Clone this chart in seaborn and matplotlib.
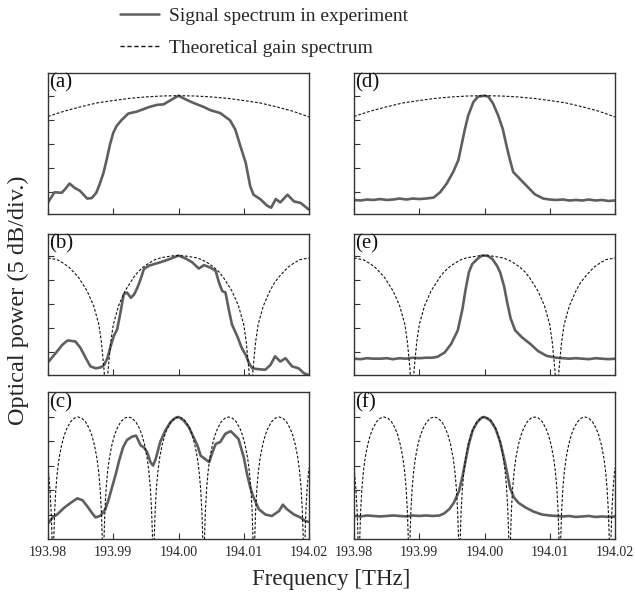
import matplotlib
matplotlib.use("Agg")
import matplotlib.pyplot as plt
from matplotlib.lines import Line2D
import pandas as pd
import seaborn as sns

# ---------------- data ----------------
freq_ticks = [193.98, 193.99, 194.00, 194.01, 194.02]
freq_tick_labels = ["193.98", "193.99", "194.00", "194.01", "194.02"]
db_ticks = [0, -5, -10, -15, -20]

# theoretical gain spectra (one per row)
th1_f = [193.9800, 193.9825, 193.9850, 193.9875, 193.9900, 193.9925, 193.9950, 193.9975, 194.0000,
         194.0025, 194.0050, 194.0075, 194.0100, 194.0125, 194.0150, 194.0175, 194.0200]
th1_db = [-4.3, -3.2, -2.3, -1.5, -1.0, -0.55, -0.25, -0.06, 0.0,
          -0.06, -0.25, -0.55, -1.0, -1.5, -2.3, -3.2, -4.4]

th2_f = [193.9800, 193.9814, 193.9823, 193.9832, 193.9839, 193.9847, 193.9860, 193.9870, 193.9878,
         193.9882, 193.9886, 193.9889, 193.9892, 193.9896, 193.9900, 193.9908, 193.9918, 193.9925,
         193.9931, 193.9938, 193.9946, 193.9955, 193.9964, 193.9973, 193.9982, 193.9991, 194.0000,
         194.0009, 194.0018, 194.0027, 194.0036, 194.0045, 194.0054, 194.0062, 194.0069, 194.0075,
         194.0082, 194.0092, 194.0100, 194.0104, 194.0108, 194.0111, 194.0114, 194.0118, 194.0122,
         194.0130, 194.0140, 194.0146, 194.0153, 194.0161, 194.0168, 194.0177, 194.0186, 194.0200]
th2_db = [-0.5, -0.85, -1.55, -2.4, -3.4, -4.6, -7.4, -10.5, -14.4,
          -18.2, -24, -32, -24, -18.2, -14.4, -10.5, -7.4, -5.9,
          -4.6, -3.4, -2.4, -1.55, -0.85, -0.45, -0.25, -0.06, 0.0,
          -0.06, -0.25, -0.45, -0.85, -1.55, -2.4, -3.4, -4.6, -5.9,
          -7.4, -10.5, -14.4, -18.2, -24, -32, -24, -18.2, -14.4,
          -10.5, -7.4, -5.9, -4.6, -3.4, -2.4, -1.55, -0.85, -0.5]

th3_f = [193.98000, 193.98006, 193.98029, 193.98048, 193.98060, 193.98075,
         193.98090, 193.98102, 193.98121, 193.98144, 193.98171, 193.98210, 193.98248, 193.98287,
         193.98344, 193.98402, 193.98460,
         193.98518, 193.98576, 193.98633, 193.98672, 193.98710, 193.98749, 193.98776, 193.98799,
         193.98818, 193.98830, 193.98845,
         193.98860, 193.98872, 193.98891, 193.98914, 193.98941, 193.98980, 193.99018, 193.99057,
         193.99114, 193.99172, 193.99230,
         193.99288, 193.99346, 193.99403, 193.99442, 193.99480, 193.99519, 193.99546, 193.99569,
         193.99588, 193.99600, 193.99615,
         193.99630, 193.99642, 193.99661, 193.99684, 193.99711, 193.99750, 193.99788, 193.99827,
         193.99884, 193.99942, 194.00000,
         194.00058, 194.00116, 194.00173, 194.00212, 194.00250, 194.00289, 194.00316, 194.00339,
         194.00358, 194.00370, 194.00385,
         194.00400, 194.00412, 194.00431, 194.00454, 194.00481, 194.00520, 194.00558, 194.00597,
         194.00654, 194.00712, 194.00770,
         194.00828, 194.00886, 194.00943, 194.00982, 194.01020, 194.01059, 194.01086, 194.01109,
         194.01128, 194.01140, 194.01155,
         194.01170, 194.01182, 194.01201, 194.01224, 194.01251, 194.01290, 194.01328, 194.01367,
         194.01424, 194.01482, 194.01540,
         194.01598, 194.01656, 194.01713, 194.01752, 194.01790, 194.01829, 194.01856, 194.01879,
         194.01898, 194.01910, 194.01925,
         194.01940, 194.01952, 194.01971, 194.01994, 194.02000]
th3_db = [-10.4, -11.1, -14.6, -19.2, -24, -32,
          -24, -19.2, -14.6, -11.1, -8.34, -5.65, -3.76, -2.38, -1.0, -0.24, 0.0,
          -0.24, -1.0, -2.38, -3.76, -5.65, -8.34, -11.1, -14.6, -19.2, -24, -32,
          -24, -19.2, -14.6, -11.1, -8.34, -5.65, -3.76, -2.38, -1.0, -0.24, 0.0,
          -0.24, -1.0, -2.38, -3.76, -5.65, -8.34, -11.1, -14.6, -19.2, -24, -32,
          -24, -19.2, -14.6, -11.1, -8.34, -5.65, -3.76, -2.38, -1.0, -0.24, 0.0,
          -0.24, -1.0, -2.38, -3.76, -5.65, -8.34, -11.1, -14.6, -19.2, -24, -32,
          -24, -19.2, -14.6, -11.1, -8.34, -5.65, -3.76, -2.38, -1.0, -0.24, 0.0,
          -0.24, -1.0, -2.38, -3.76, -5.65, -8.34, -11.1, -14.6, -19.2, -24, -32,
          -24, -19.2, -14.6, -11.1, -8.34, -5.65, -3.76, -2.38, -1.0, -0.24, 0.0,
          -0.24, -1.0, -2.38, -3.76, -5.65, -8.34, -11.1, -14.6, -19.2, -24, -32,
          -24, -19.2, -14.6, -11.1, -10.4]

# measured signal spectra
fa = [193.9800, 193.9810, 193.9821, 193.9826, 193.9833, 193.9841, 193.9849, 193.9860, 193.9867,
      193.9874, 193.9879, 193.9885, 193.9890, 193.9895, 193.9900, 193.9905, 193.9913, 193.9923,
      193.9936, 193.9946, 193.9956, 193.9967, 193.9977, 193.9987, 194.0000, 194.0010, 194.0023,
      194.0038, 194.0049, 194.0064, 194.0079, 194.0087, 194.0095, 194.0103, 194.0110, 194.0115,
      194.0126, 194.0136, 194.0142, 194.0149, 194.0156, 194.0167, 194.0177, 194.0187, 194.0200]
sa = [-22.1, -20.0, -20.1, -19.4, -18.2, -19.1, -19.7, -21.3, -21.2,
      -20.1, -18.4, -16.0, -13.2, -10.1, -7.7, -6.3, -5.0, -3.7,
      -3.3, -2.8, -2.3, -1.9, -1.8, -1.0, 0.0, -0.7, -1.5,
      -2.3, -3.0, -3.6, -5.1, -7.0, -10.5, -13.9, -18.8, -20.5,
      -21.5, -22.8, -23.2, -21.4, -22.1, -20.5, -21.9, -22.2, -23.6]

fb = [193.9801, 193.9812, 193.9822, 193.9830, 193.9842, 193.9850, 193.9858, 193.9865, 193.9873,
      193.9881, 193.9886, 193.9891, 193.9896, 193.9901, 193.9906, 193.9911, 193.9916, 193.9921,
      193.9927, 193.9932, 193.9937, 193.9942, 193.9947, 193.9955, 193.9962, 193.9972, 193.9985,
      194.0000, 194.0011, 194.0021, 194.0031, 194.0039, 194.0049, 194.0057, 194.0062, 194.0067,
      194.0072, 194.0077, 194.0082, 194.0090, 194.0097, 194.0103, 194.0108, 194.0113, 194.0123,
      194.0133, 194.0141, 194.0148, 194.0156, 194.0164, 194.0174, 194.0184, 194.0192, 194.0199]
sb = [-22.1, -20.3, -18.6, -17.7, -17.9, -19.3, -21.4, -23.1, -23.5,
      -23.3, -22.8, -21.4, -18.9, -16.7, -15.4, -11.9, -8.1, -7.7,
      -8.8, -8.1, -6.7, -4.9, -2.8, -2.1, -1.8, -1.4, -0.8,
      0.0, -0.6, -1.4, -2.7, -2.0, -2.5, -3.2, -5.6, -7.4,
      -7.7, -11.2, -14.4, -16.8, -19.3, -20.7, -22.4, -23.5, -23.7,
      -23.8, -22.8, -21.0, -22.1, -21.4, -23.1, -23.5, -24.5, -24.9]

fc = [193.9801, 193.9807, 193.9814, 193.9824, 193.9835, 193.9845, 193.9853, 193.9860, 193.9868,
      193.9873, 193.9881, 193.9888, 193.9893, 193.9898, 193.9904, 193.9909, 193.9915, 193.9921,
      193.9929, 193.9935, 193.9942, 193.9947, 193.9952, 193.9957, 193.9961, 193.9965, 193.9972,
      193.9980, 193.9988, 193.9995, 194.0000, 194.0008, 194.0016, 194.0023, 194.0029, 194.0034,
      194.0041, 194.0047, 194.0052, 194.0057, 194.0064, 194.0072, 194.0080, 194.0087, 194.0092,
      194.0100, 194.0105, 194.0110, 194.0115, 194.0123, 194.0133, 194.0143, 194.0154, 194.0160,
      194.0166, 194.0177, 194.0187, 194.0194, 194.0199]
sc = [-21.6, -20.5, -19.9, -18.6, -17.5, -16.6, -17.0, -18.2, -19.7,
      -20.5, -20.1, -18.8, -16.8, -14.4, -11.6, -8.9, -6.2, -4.7,
      -4.0, -3.8, -5.8, -6.2, -7.2, -9.2, -9.9, -8.6, -5.1,
      -2.7, -1.0, -0.2, 0.0, -0.7, -2.1, -4.1, -5.8, -7.9,
      -8.6, -9.2, -7.2, -5.5, -5.1, -3.4, -2.9, -3.8, -4.5,
      -8.2, -11.6, -14.4, -16.4, -18.8, -19.9, -20.2, -19.2, -17.9,
      -18.8, -19.9, -20.5, -21.2, -21.4]

fd = [193.9800, 193.9810, 193.9820, 193.9830, 193.9840, 193.9850, 193.9860, 193.9870, 193.9880,
      193.9890, 193.9900, 193.9910, 193.9922, 193.9932, 193.9942, 193.9952, 193.9960, 193.9965,
      193.9970, 193.9975, 193.9983, 193.9990, 194.0000, 194.0006, 194.0013, 194.0021, 194.0028,
      194.0034, 194.0039, 194.0044, 194.0054, 194.0064, 194.0077, 194.0090, 194.0100, 194.0110,
      194.0120, 194.0130, 194.0140, 194.0150, 194.0160, 194.0170, 194.0180, 194.0190, 194.0200]
sd = [-21.6, -21.7, -21.5, -21.6, -21.4, -21.6, -21.5, -21.3, -21.5,
      -21.3, -21.4, -21.3, -21.1, -20.0, -18.2, -15.8, -13.3, -10.1,
      -6.9, -4.1, -1.3, -0.2, 0.0, -0.2, -1.6, -4.1, -6.9,
      -10.5, -13.3, -15.8, -17.2, -18.6, -20.4, -21.3, -21.5, -21.6,
      -21.5, -21.7, -21.6, -21.7, -21.5, -21.7, -21.6, -21.8, -21.7]

fe = [193.9800, 193.9810, 193.9820, 193.9830, 193.9840, 193.9850, 193.9860, 193.9870, 193.9880,
      193.9890, 193.9900, 193.9910, 193.9920, 193.9928, 193.9939, 193.9949, 193.9959, 193.9966,
      193.9971, 193.9976, 193.9981, 193.9989, 193.9996, 194.0004, 194.0012, 194.0019, 194.0024,
      194.0030, 194.0035, 194.0040, 194.0047, 194.0057, 194.0070, 194.0082, 194.0095, 194.0110,
      194.0120, 194.0130, 194.0140, 194.0150, 194.0160, 194.0170, 194.0180, 194.0190, 194.0200]
se = [-21.5, -21.6, -21.4, -21.5, -21.5, -21.4, -21.6, -21.4, -21.5,
      -21.3, -21.4, -21.3, -21.3, -21.1, -20.2, -18.4, -15.6, -11.3,
      -7.1, -3.5, -1.8, -0.7, 0.0, 0.0, -0.7, -2.1, -3.5,
      -6.4, -9.9, -13.1, -15.6, -17.0, -18.4, -19.9, -20.9, -21.3,
      -21.4, -21.5, -21.4, -21.5, -21.6, -21.4, -21.5, -21.6, -21.5]

ff = [193.9800, 193.9810, 193.9820, 193.9830, 193.9840, 193.9850, 193.9860, 193.9870, 193.9880,
      193.9890, 193.9900, 193.9910, 193.9920, 193.9931, 193.9938, 193.9946, 193.9953, 193.9961,
      193.9966, 193.9971, 193.9976, 193.9982, 193.9989, 193.9996, 194.0000, 194.0009, 194.0017,
      194.0024, 194.0029, 194.0034, 194.0039, 194.0045, 194.0052, 194.0062, 194.0075, 194.0088,
      194.0100, 194.0110, 194.0120, 194.0130, 194.0140, 194.0150, 194.0160, 194.0170, 194.0180,
      194.0190, 194.0200]
sf = [-20.2, -20.3, -20.1, -20.2, -20.3, -20.2, -20.1, -20.2, -20.3,
      -20.1, -20.2, -20.1, -20.2, -20.1, -19.7, -18.8, -17.5, -15.1,
      -12.3, -8.9, -5.5, -2.7, -1.0, -0.1, 0.0, -0.7, -2.4,
      -5.1, -7.9, -11.0, -14.4, -16.4, -17.5, -18.4, -19.3, -19.9,
      -20.1, -20.2, -20.3, -20.2, -20.4, -20.3, -20.2, -20.4, -20.3,
      -20.4, -20.3]

panel_labels = ["(a)", "(b)", "(c)", "(d)", "(e)", "(f)"]
legend_labels = ["Signal spectrum in experiment", "Theoretical gain spectrum"]
xlabel = "Frequency [THz]"
ylabel = "Optical power (5 dB/div.)"

# ---------------- style ----------------
sns.set_theme(style="ticks")
plt.rcParams["font.family"] = ["Liberation Serif", "DejaVu Serif"]

SIG_COLOR = "#5f5f5f"
TH_COLOR = "#111111"
SPINE_COLOR = "#333333"

W, H = 635, 599
fig = plt.figure(figsize=(W / 100, H / 100), dpi=100)

cols = [(48, 309), (354, 615)]
rows = [(73, 214), (234, 375), (392, 539)]
ylims = [(-24.5, 4.7), (-24.9, 4.5), (-24.9, 5.1)]

signals = [(fa, sa), (fb, sb), (fc, sc), (fd, sd), (fe, se), (ff, sf)]
theories = [(th1_f, th1_db), (th2_f, th2_db), (th3_f, th3_db)]

for ci, (x0, x1) in enumerate(cols):
    for ri, (y0, y1) in enumerate(rows):
        idx = ci * 3 + ri
        ax = fig.add_axes([x0 / W, 1 - y1 / H, (x1 - x0) / W, (y1 - y0) / H])
        sf_, sv_ = signals[idx]
        tf_, tv_ = theories[ri]
        sig_df = pd.DataFrame({"freq": sf_, "db": sv_})
        th_df = pd.DataFrame({"freq": tf_, "db": tv_})
        sns.lineplot(data=sig_df, x="freq", y="db", ax=ax, color=SIG_COLOR,
                     linewidth=1.9, estimator=None, sort=False)
        sns.lineplot(data=th_df, x="freq", y="db", ax=ax, color=TH_COLOR,
                     linewidth=0.8, estimator=None, sort=False)
        ax.lines[-1].set_dashes((2.5, 1.6))
        ax.set_xlim(193.98, 194.02)
        ax.set_ylim(*ylims[ri])
        ax.set_xticks(freq_ticks)
        ax.set_yticks(db_ticks)
        ax.set_xlabel("")
        ax.set_ylabel("")
        ax.tick_params(direction="in", length=4, width=0.8, color=SPINE_COLOR,
                       labelleft=False, labelbottom=(ri == 2), labelsize=10, pad=5)
        if ri == 2:
            ax.set_xticklabels(freq_tick_labels)
        for sp in ax.spines.values():
            sp.set_visible(True)
            sp.set_linewidth(1.0)
            sp.set_color(SPINE_COLOR)
        ax.text(0.006, 0.995, panel_labels[idx], transform=ax.transAxes,
                ha="left", va="top", fontsize=15, color="#111111")

handles = [Line2D([], [], color=SIG_COLOR, linewidth=1.8),
           Line2D([], [], color=TH_COLOR, linewidth=1.0, dashes=(3, 2))]
fig.legend(handles, legend_labels, loc="upper left", bbox_to_anchor=(120 / W, 1 - 7 / H),
           frameon=False, fontsize=14, handlelength=2.0, handletextpad=0.5,
           labelspacing=0.75, borderpad=0, borderaxespad=0)

fig.text(331 / W, 1 - 580 / H, xlabel, ha="center", va="center", fontsize=16.5)
fig.text(18 / W, 1 - 300 / H, ylabel, ha="center", va="center", rotation=90, fontsize=17.5)

fig.savefig("out.png", dpi=100)
